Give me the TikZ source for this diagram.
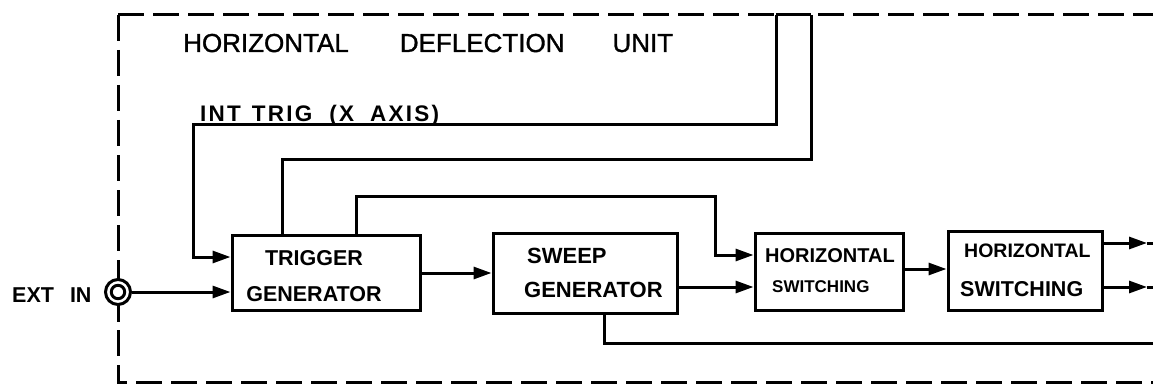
\documentclass[tikz,border=0pt]{standalone}
\usepackage{fontspec}
\setmainfont{Liberation Sans}
\usetikzlibrary{arrows.meta}
\begin{document}
\begin{tikzpicture}[x=1pt,y=-1pt,
  wire/.style={line width=3pt},
  arr/.style={wire,-{Triangle[length=18pt,width=12pt]}},
  blk/.style={draw,line width=3pt,inner sep=0pt},
  border/.style={line width=3pt,dash pattern=on 26pt off 9pt},
  lbl/.style={inner sep=0pt,anchor=base west},
  bf/.style={font=\bfseries\fontsize{#1}{#1}\selectfont},
]
\useasboundingbox (0,0) rectangle (1153,385);
% border
\draw[border] (118,15) -- (1153,15);
\draw[border] (118,15) -- (118,382) -- (1153,382);
% title
\node[lbl,font=\fontsize{26}{26}\selectfont\addfontfeature{FakeBold=1.2}] (title) at (183,52)
  {HORIZONTAL\hspace{51pt}DEFLECTION\hspace{48pt}UNIT};
% blocks
\node[blk,minimum width=188pt,minimum height=75pt] (trig) at (326,272.5) {};
\node[blk,minimum width=184pt,minimum height=80pt] (sweep) at (585,273) {};
\node[blk,minimum width=148pt,minimum height=77pt] (hs1) at (829,271.5) {};
\node[blk,minimum width=154pt,minimum height=79pt] (hs2) at (1025,270.5) {};
% block texts
\node[lbl,anchor=base,bf=21.5] (t1) at (314,265) {TRIGGER};
\node[lbl,anchor=base,bf=21.5] (t2) at (314,301) {GENERATOR};
\node[lbl,bf=22] (s1) at (527,263) {SWEEP};
\node[lbl,bf=22] (s2) at (524,297) {GENERATOR};
\node[lbl,bf=20] (h1a) at (765,262) {HORIZONTAL};
\node[lbl,bf=17] (h1b) at (772,292) {SWITCHING};
\node[lbl,bf=19.5] (h2a) at (964,257) {HORIZONTAL};
\node[lbl,bf=21.5] (h2b) at (960,296) {SWITCHING};
% labels
\node[lbl,font=\bfseries\fontsize{22.5}{22.5}\selectfont\addfontfeature{LetterSpace=10}] (inttrig) at (200,121.5)
  {INT\hspace{11pt}TRIG\hspace{17pt}(X\hspace{16pt}AXIS)};
\node[lbl,bf=21.5] (extin) at (12,302) {EXT\hspace{16pt}IN};
% jack
\node[circle,draw,line width=3pt,minimum size=25pt,inner sep=0pt,fill=white] (jack) at (118,292) {};
\draw[wire] (jack.center) circle (6.7pt);
\draw[wire] (118,265) -- (jack.north);
\draw[wire] (jack.south) -- (118,322);
% top inputs
\coordinate (intA) at (776,15);
\coordinate (intB) at (811,15);
\draw[wire] (intA) -- (intB);
\draw[arr] (intA) |- (193,125) |- (trig.west |- 0,257);
\draw[wire] (intB) |- (282,159) -- (trig.north -| 282,0);
\draw[arr] (trig.north -| 356,0) |- (715,196) |- (hs1.west |- 0,255);
% main chain
\draw[arr] (jack.east) -- (trig.west |- jack.east);
\draw[arr] (trig.east |- 0,273) -- (sweep.west |- 0,273);
\draw[arr] (sweep.east |- 0,287) -- (hs1.west |- 0,287);
\draw[arr] (hs1.east |- 0,269) -- (hs2.west |- 0,269);
% outputs
\coordinate (o1) at (1147,243);
\coordinate (o2) at (1147,287);
\coordinate (o1e) at (1153,243);
\coordinate (o2e) at (1153,287);
\draw[arr] (hs2.east |- o1) -- (o1);
\draw[wire] (o1) -- (o1e);
\draw[arr] (hs2.east |- o2) -- (o2);
\draw[wire] (o2) -- (o2e);
\coordinate (botE) at (1153,343);
\draw[wire] (sweep.south -| 604,0) |- (botE);
\end{tikzpicture}
\end{document}
